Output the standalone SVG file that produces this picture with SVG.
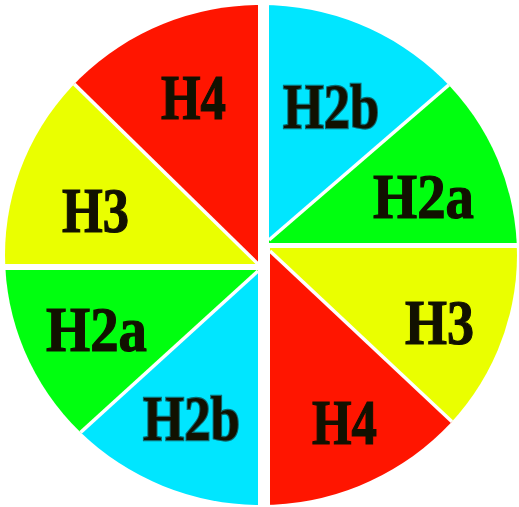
<svg xmlns="http://www.w3.org/2000/svg" width="519" height="507" viewBox="0 0 519 507">
<style>
.red{fill:#ff1500}.yel{fill:#eaff00}.grn{fill:#00ff0f}.cyn{fill:#00e6ff}
.sep{stroke:#ffffff;stroke-width:3.5;fill:none}
.lbl{font-family:"Liberation Serif","Times New Roman",serif;font-weight:bold;font-size:63px;fill:#111100;stroke:#111100;stroke-width:1.2;paint-order:stroke}
.lbl.teal{stroke:#0e6a70;stroke-width:2.4}
</style>
<defs>
<clipPath id="pie"><ellipse cx="261" cy="255" rx="256" ry="250"/></clipPath>
</defs>
<rect width="519" height="507" fill="#ffffff"/>
<g clip-path="url(#pie)">
<g id="tl-h4"><polygon class="red" points="258,264 258,-30 -30,-30 -30,-18"/></g>
<g id="tl-h3"><polygon class="yel" points="258,264 -30,-18 -30,264"/></g>
<g id="tr-h2b"><polygon class="cyn" points="269,240 269,-30 560,-30 560,-11"/></g>
<g id="tr-h2a"><polygon class="grn" points="269,240 560,-11 560,243 269,243"/></g>
<g id="br-h3"><polygon class="yel" points="270,248 560,248 560,523 270,251"/></g>
<g id="br-h4"><polygon class="red" points="270,251 560,523 560,540 270,540"/></g>
<g id="bl-h2a"><polygon class="grn" points="-30,270 258,270 258,271 -30,533"/></g>
<g id="bl-h2b"><polygon class="cyn" points="258,271 258,540 -30,540 -30,533"/></g>
<g id="connectors">
<line class="sep" x1="258" y1="264" x2="-30" y2="-18"/>
<line class="sep" x1="269" y1="240" x2="560" y2="-11"/>
<line class="sep" x1="270" y1="251" x2="560" y2="523"/>
<line class="sep" x1="258" y1="271" x2="-30" y2="533"/>
</g>
</g>
<g id="labels">
<text class="lbl" x="161" y="119" textLength="65" lengthAdjust="spacingAndGlyphs">H4</text>
<text class="lbl" x="62" y="232" textLength="67" lengthAdjust="spacingAndGlyphs">H3</text>
<text class="lbl teal" x="283" y="128" textLength="96" lengthAdjust="spacingAndGlyphs">H2b</text>
<text class="lbl" x="373" y="218" textLength="101" lengthAdjust="spacingAndGlyphs">H2a</text>
<text class="lbl" x="46" y="351" textLength="101" lengthAdjust="spacingAndGlyphs">H2a</text>
<text class="lbl teal" x="143" y="440" textLength="97" lengthAdjust="spacingAndGlyphs">H2b</text>
<text class="lbl" x="405" y="344" textLength="69" lengthAdjust="spacingAndGlyphs">H3</text>
<text class="lbl" x="312" y="444" textLength="65" lengthAdjust="spacingAndGlyphs">H4</text>
</g>
</svg>
